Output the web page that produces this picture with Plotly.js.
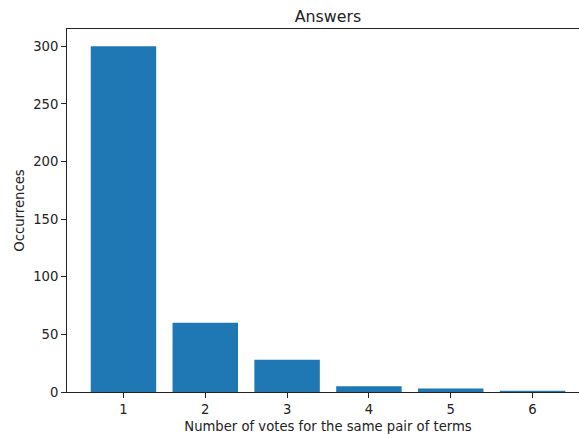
<!DOCTYPE html>
<html>
<head>
<meta charset="utf-8">
<script src="https://cdn.plot.ly/plotly-3.0.1.min.js"></script>
<style>
  html, body { margin: 0; padding: 0; background: #fff; overflow: hidden; }
  #chart { width: 589px; height: 435px; }
</style>
</head>
<body>
<div id="chart"></div>
<script>
// Number of votes received by the same pair of terms, and how often each count occurs
const votes = [1, 2, 3, 4, 5, 6];
const occurrences = [300, 60, 28, 5, 3, 1];
const xTicks = [1, 2, 3, 4, 5, 6];
const yTicks = [0, 50, 100, 150, 200, 250, 300];

const font = { family: 'DejaVu Sans, sans-serif', size: 13.2, color: '#222' };

const trace = {
  type: 'bar',
  x: votes,
  y: occurrences,
  width: 0.8,
  marker: { color: '#1f77b4', line: { width: 0 } },
  hoverinfo: 'x+y'
};

// The figure is slightly wider than the window, so its right spine falls just off-screen
const layout = {
  width: 589,
  height: 435,
  margin: { l: 67, r: 0, t: 29, b: 43 },
  paper_bgcolor: '#fff',
  plot_bgcolor: '#fff',
  font: font,
  showlegend: false,
  title: {
    text: 'Answers',
    font: { family: 'DejaVu Sans, sans-serif', size: 15.8, color: '#222' },
    xref: 'paper', x: 0.5, xanchor: 'center',
    yref: 'container', y: 1 - 16 / 435, yanchor: 'middle'
  },
  xaxis: {
    range: [0.31, 6.69],
    tickvals: xTicks,
    ticktext: xTicks.map(String),
    ticks: 'outside', ticklen: 5, tickwidth: 1, tickcolor: '#222',
    showline: true, linecolor: '#222', linewidth: 1, mirror: true,
    showgrid: false, zeroline: false,
    title: { text: 'Number of votes for the same pair of terms', font: font, standoff: 5 }
  },
  yaxis: {
    range: [0, 315],
    tickvals: yTicks,
    ticktext: yTicks.map(String),
    ticks: 'outside', ticklen: 5, tickwidth: 1, tickcolor: '#222',
    showline: true, linecolor: '#222', linewidth: 1, mirror: true,
    showgrid: false, zeroline: false,
    title: { text: 'Occurrences', font: font, standoff: 5 }
  }
};

Plotly.newPlot('chart', [trace], layout, { displayModeBar: false, staticPlot: true });
</script>
</body>
</html>
